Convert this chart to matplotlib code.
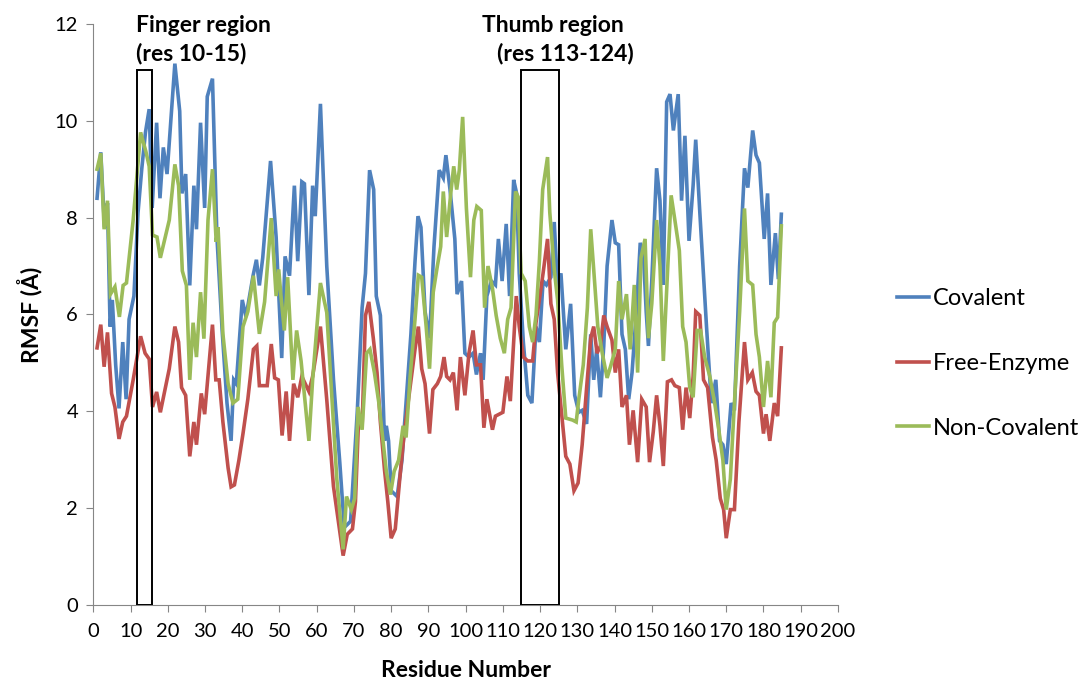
import matplotlib
matplotlib.use("Agg")
import matplotlib.pyplot as plt
from matplotlib.patches import Rectangle

plt.rcParams["font.family"] = ["Lato", "DejaVu Sans"]

# residue positions / RMSF values (one list pair per series)
cov_x = [1, 2, 3, 3.8, 4.5, 5.1, 6, 6.9, 7.9, 8.8,
         9.6, 10.9, 12, 13, 14, 15, 15.8, 17, 17.9, 18.8,
         19.8, 21.9, 23.2, 23.8, 24.8, 25.9, 27, 27.7, 28.8, 29.9,
         30.6, 32, 33.2, 34.6, 35.9, 37, 37.7, 38.4, 40, 41,
         42.9, 43.8, 44.6, 45.5, 47.6, 49.1, 50.6, 51.5, 52.7, 54,
         54.9, 56, 56.7, 57.9, 58.9, 59.6, 61, 62.7, 64.5, 66.2,
         67.4, 69.1, 70.9, 72.2, 73.1, 74.2, 75.3, 76, 77.1, 78.2,
         78.7, 79.3, 80, 81.6, 82.9, 84, 85.3, 86.4, 87.2, 88,
         89.1, 90.3, 91.5, 92.9, 94, 94.7, 95.8, 97.1, 97.7, 98.9,
         99.8, 100.9, 102, 102.9, 104, 104.7, 105.7, 106.9, 108, 108.8,
         109.8, 110.9, 111.8, 112.9, 113.7, 114.4, 115.5, 116.7, 117.8, 118.9,
         119.8, 120.8, 121.7, 122.9, 123.8, 124.7, 125.6, 126.9, 128.2, 129.3,
         130.4, 131.3, 132.5, 133.6, 134.4, 135.2, 136.2, 137.1, 138, 139.3,
         140.2, 141.1, 142, 142.9, 143.8, 144.7, 146, 146.9, 147.8, 148.5,
         149.1, 150, 151.3, 152.2, 153.1, 154, 154.9, 155.8, 157.1, 158,
         158.9, 160, 161.1, 161.8, 162.9, 164.7, 166, 167.2, 168.2, 169.1,
         170, 171.3, 172.2, 173.6, 174.9, 175.8, 177.1, 178, 178.9, 180.2,
         181.1, 182, 183.2, 184, 184.8]
cov_y = [8.4, 9.35, 7.8, 8.3, 5.75, 6.3, 4.96, 4.06, 5.43, 4.25,
         5.9, 6.38, 8.1, 9.0, 9.76, 10.24, 8.2, 9.96, 8.4, 9.45,
         8.9, 11.18, 10.2, 8.5, 8.9, 6.6, 8.66, 7.76, 9.96, 8.2,
         10.5, 10.87, 7.6, 5.67, 4.17, 3.39, 4.65, 4.57, 6.3, 5.95,
         6.8, 7.13, 6.6, 7.17, 9.17, 7.6, 5.1, 7.2, 6.8, 8.66,
         7.1, 8.74, 8.7, 6.4, 8.66, 8.03, 10.35, 7.0, 4.66, 2.94,
         1.6, 1.73, 4.0, 6.14, 6.85, 8.98, 8.58, 6.38, 5.98, 3.39,
         3.7, 3.39, 2.36, 2.24, 2.99, 4.17, 5.59, 7.09, 8.03, 7.8,
         6.06, 5.51, 7.4, 8.98, 8.82, 9.29, 8.58, 7.56, 6.42, 6.69,
         5.2, 5.12, 5.2, 4.76, 5.2, 4.65, 6.38, 6.69, 6.61, 7.56,
         6.69, 7.87, 6.38, 8.78, 8.5, 6.85, 5.43, 4.33, 4.17, 5.75,
         5.43, 6.69, 6.61, 6.77, 7.91, 6.54, 6.85, 5.28, 6.22, 4.33,
         3.98, 4.02, 3.74, 5.59, 4.65, 5.28, 4.29, 5.35, 7.0, 7.95,
         7.48, 7.44, 5.59, 5.28, 4.25, 4.8, 6.22, 7.48, 7.17, 6.06,
         5.35, 6.69, 9.02, 8.35, 6.61, 10.39, 10.55, 9.8, 10.55, 8.35,
         9.69, 7.52, 8.66, 9.61, 8.11, 5.75, 4.17, 4.65, 3.39, 3.31,
         2.91, 4.17, 4.02, 7.0, 9.02, 8.62, 9.8, 9.29, 9.13, 7.56,
         8.5, 6.61, 7.68, 6.73, 8.07]

free_x = [1, 2, 2.9, 3.8, 4.9, 5.8, 6.9, 7.9, 8.9, 10.7,
          12.7, 13.9, 15, 15.9, 17, 18, 20.4, 21.9, 22.9, 23.7,
          24.8, 25.9, 27, 27.7, 29, 29.9, 32, 32.9, 33.8, 34.8,
          36.2, 37, 37.9, 39.1, 40.2, 41.5, 43, 43.9, 44.6, 45.7,
          46.7, 47.8, 48.7, 49.7, 50.7, 51.8, 52.7, 53.8, 54.9, 56,
          57.9, 58.9, 61, 62.7, 64.5, 67.1, 68.2, 69.6, 70.4, 71.3,
          72.2, 73.1, 74, 75.2, 76.2, 77.1, 78.2, 79.1, 80, 81.1,
          82.3, 83.3, 84.4, 85.6, 86.4, 87.3, 88.2, 89.1, 90.3, 91.2,
          92.4, 93.3, 94.2, 94.9, 95.8, 96.7, 97.7, 98.6, 99.8, 100.9,
          102, 102.9, 104, 104.9, 105.7, 107.2, 108, 110, 111.1, 112,
          113.6, 114.4, 115.5, 116.7, 118, 118.9, 119.8, 120.8, 122, 122.9,
          123.8, 124.7, 125.6, 126.9, 128, 129.1, 130.2, 131.3, 132.5, 133.6,
          134.4, 135.3, 136.2, 137.1, 138, 139.3, 140.2, 141.1, 142, 143.2,
          144, 145, 146.2, 147.3, 148.5, 149.4, 150.4, 151.3, 152.2, 153.1,
          154.2, 155.3, 156.2, 157.4, 158.3, 159.2, 160.2, 161.1, 161.8, 162.9,
          163.9, 165, 166.3, 167.3, 168.4, 169.3, 170, 171.1, 172.2, 173.4,
          174.9, 175.8, 177, 178, 178.9, 180, 180.7, 181.7, 182.9, 183.8,
          184.8]
free_y = [5.31, 5.79, 4.92, 5.63, 4.37, 4.09, 3.43, 3.78, 3.9, 4.65,
          5.55, 5.2, 5.08, 4.09, 4.4, 3.98, 4.88, 5.75, 5.43, 4.49,
          4.33, 3.07, 3.78, 3.31, 4.37, 3.94, 5.79, 4.65, 4.65, 3.78,
          2.83, 2.44, 2.48, 2.99, 3.54, 4.25, 5.28, 5.35, 4.53, 4.53,
          4.53, 5.39, 4.69, 4.65, 3.5, 4.41, 3.39, 4.57, 4.29, 4.72,
          4.41, 4.72, 5.75, 4.24, 2.45, 1.02, 1.46, 1.57, 2.13, 3.94,
          3.7, 5.98, 6.26, 5.51, 4.8, 3.78, 2.8, 2.13, 1.38, 1.57,
          2.6, 3.39, 4.09, 4.8, 5.28, 5.75, 4.88, 4.57, 3.54, 4.45,
          4.57, 4.72, 5.12, 4.72, 4.65, 4.8, 4.02, 5.12, 4.33, 5.2,
          5.67, 4.96, 4.96, 3.66, 4.25, 3.62, 3.9, 3.98, 4.72, 4.21,
          6.38, 5.75, 5.12, 5.04, 5.04, 5.83, 6.3, 6.85, 7.56, 6.22,
          5.9, 4.8, 4.09, 3.07, 2.91, 2.36, 2.52, 3.31, 4.49, 5.51,
          5.75, 5.2, 5.35, 5.98, 5.75, 5.47, 4.8, 5.28, 4.09, 4.33,
          3.31, 4.02, 2.95, 4.25, 4.09, 2.95, 3.58, 4.33, 3.7, 2.87,
          4.61, 4.65, 4.53, 4.49, 3.62, 4.49, 3.86, 4.72, 6.06, 5.98,
          4.65, 4.49, 3.46, 2.99, 2.2, 1.97, 1.38, 1.97, 1.97, 3.78,
          5.43, 4.65, 4.8, 4.41, 4.33, 3.54, 3.94, 3.39, 4.17, 3.9,
          5.31]

noncov_x = [1, 2, 2.9, 3.8, 4.6, 5.8, 7, 8, 8.9, 10.7,
            12.7, 14.1, 15, 15.9, 17.1, 18, 20.4, 21.9, 22.9, 23.9,
            25, 25.9, 26.8, 27.7, 28.8, 29.7, 30.8, 32, 33, 33.5,
            34.8, 36.2, 37.5, 38.8, 40.2, 41.5, 43, 44.6, 46, 47.8,
            49.1, 49.8, 50.4, 51.3, 52.2, 53.6, 54.6, 55.8, 57.9, 58.9,
            61, 62.7, 65.4, 67.1, 68, 69.3, 70.2, 71.1, 72.2, 73.4,
            74.3, 75.5, 76.7, 77.8, 78.7, 79.8, 80.8, 82, 83.2, 84,
            85.1, 86.4, 87.3, 88.2, 89.4, 90.3, 91.3, 92.4, 93.3, 94,
            94.9, 96, 96.8, 97.6, 98.3, 99.2, 100.2, 101.3, 102.2, 103,
            104.2, 105.1, 106, 107.2, 108.2, 109.3, 110.4, 111.3, 112.2, 113.4,
            114.1, 114.9, 116, 117.1, 118, 118.9, 119.8, 120.7, 122, 122.6,
            123.8, 124.7, 125.8, 126.9, 128.7, 129.7, 130.4, 131.6, 132.7, 133.6,
            134.4, 135.5, 136.7, 138, 138.9, 140.2, 141.1, 142, 143.2, 144.2,
            145.3, 146.2, 147.1, 148.2, 149.1, 150, 151.3, 152.2, 153.1, 154.2,
            155.2, 156.2, 157.4, 158.3, 159.2, 160.2, 161.1, 162.2, 163.1, 164.2,
            165.6, 166.9, 168, 169.1, 170, 171.1, 172.2, 173.6, 174.9, 175.8,
            177.1, 178, 178.9, 180, 181.1, 182, 182.9, 183.8, 184.8]
noncov_y = [9.0, 9.33, 7.76, 8.35, 6.42, 6.57, 5.95, 6.6, 6.65, 7.95,
            9.76, 9.37, 9.06, 7.64, 7.6, 7.17, 7.95, 9.1, 8.66, 6.9,
            6.6, 4.65, 5.83, 5.12, 6.46, 5.5, 7.95, 9.0, 7.5, 7.8,
            5.6, 4.57, 4.17, 4.25, 5.75, 6.06, 6.8, 5.6, 6.26, 7.99,
            6.38, 6.93, 6.38, 5.67, 6.77, 4.65, 5.67, 5.04, 3.39, 4.65,
            6.65, 6.04, 2.6, 1.15, 2.24, 1.97, 2.2, 4.09, 3.62, 5.2,
            5.28, 4.8, 4.17, 3.39, 2.76, 2.28, 2.76, 2.99, 3.7, 3.46,
            4.72, 5.9, 6.81, 6.77, 5.75, 4.88, 6.46, 7.0, 7.4, 8.54,
            7.6, 8.5, 9.06, 8.58, 8.98, 10.08, 8.2, 6.77, 7.95, 8.23,
            8.15, 6.14, 7.0, 6.54, 5.98, 5.51, 5.2, 5.9, 6.14, 8.54,
            8.43, 6.85, 6.69, 5.75, 5.43, 5.98, 7.09, 8.58, 9.25, 8.11,
            6.93, 6.3, 4.96, 3.86, 3.82, 3.78, 4.25, 4.96, 6.14, 7.76,
            6.93, 5.75, 5.2, 4.69, 4.92, 5.28, 6.69, 5.9, 6.42, 5.28,
            6.61, 4.8, 7.17, 7.56, 5.51, 6.22, 7.95, 7.0, 5.04, 6.85,
            8.46, 7.95, 7.32, 5.75, 5.43, 4.49, 4.29, 5.67, 5.67, 5.12,
            4.72, 4.17, 3.62, 2.99, 1.97, 2.6, 4.17, 6.06, 8.19, 6.69,
            6.61, 5.59, 5.12, 4.09, 5.04, 4.29, 5.83, 5.94, 7.83]

series = [
    ("Covalent", cov_x, cov_y, "#4F81BD"),
    ("Free-Enzyme", free_x, free_y, "#C0504D"),
    ("Non-Covalent", noncov_x, noncov_y, "#9BBB59"),
]

# highlighted regions: (start, end, height)
finger_box = (11.65, 15.7, 11.05)
thumb_box = (114.8, 125.1, 11.05)

fig = plt.figure(figsize=(10.84, 6.82), dpi=100)
ax = fig.add_axes([0.0861, 0.1129, 0.6869, 0.852])

for name, xs, ys, col in series:
    ax.plot(xs, ys, color=col, lw=2.6, label=name, solid_joinstyle="miter")

for x0, x1, h in [finger_box, thumb_box]:
    ax.add_patch(Rectangle((x0, 0), x1 - x0, h, fill=False, ec="black", lw=1.4, zorder=5))

ax.set_xlim(0, 200)
ax.set_ylim(0, 12)
ax.set_xticks(range(0, 201, 10))
ax.set_yticks(range(0, 13, 2))
for s in ["top", "right"]:
    ax.spines[s].set_visible(False)
for s in ["left", "bottom"]:
    ax.spines[s].set_color("#868686")
ax.tick_params(direction="out", length=5, color="#868686", labelsize=14.5)
ax.tick_params(axis="x", pad=8)
ax.tick_params(axis="y", pad=6)

ax.set_xlabel("Residue Number", fontsize=16.5, fontweight="bold", labelpad=14)
ax.set_ylabel("RMSF (Å)", fontsize=16.5, fontweight="bold", labelpad=9)

fig.text(0.1255, 0.962, "Finger region", fontsize=16.5, fontweight="bold", va="center")
fig.text(0.1255, 0.921, "(res 10-15)", fontsize=16.5, fontweight="bold", va="center")
fig.text(0.4447, 0.962, "Thumb region", fontsize=16.5, fontweight="bold", va="center")
fig.text(0.4585, 0.921, "(res 113-124)", fontsize=16.5, fontweight="bold", va="center")

ax.legend(loc="center left", bbox_to_anchor=(0.817, 0.467), bbox_transform=fig.transFigure,
          frameon=False, fontsize=17, handlelength=1.35, handletextpad=0.15,
          labelspacing=1.85, borderpad=0)

fig.savefig("out.png", dpi=100)
